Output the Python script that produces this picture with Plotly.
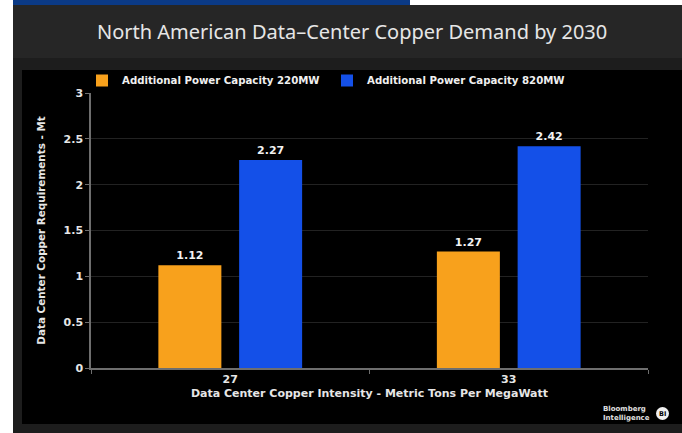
import plotly.graph_objects as go

# Chart data
intensity = ["27", "33"]
demand_220mw = [1.12, 1.27]
demand_820mw = [2.27, 2.42]
series_names = ["Additional Power Capacity 220MW", "Additional Power Capacity 820MW"]
y_ticks = [0, 0.5, 1, 1.5, 2, 2.5, 3]
y_tick_text = ["0", "0.5", "1", "1.5", "2", "2.5", "3"]

W, H = 682, 433
L, R, T, B = 91, 34, 93, 65
PW, PH = W - L - R, H - T - B

ORANGE = "#f8a11c"
BLUE = "#1450e8"
LABEL_FONT = "DejaVu Sans"


def px(x):
    return (x - L) / PW


def py(y):
    return (H - B - y) / PH


fig = go.Figure()
for name, vals, col in [(series_names[0], demand_220mw, ORANGE),
                        (series_names[1], demand_820mw, BLUE)]:
    fig.add_trace(go.Bar(
        x=intensity, y=vals, name=name,
        marker=dict(color=col, line=dict(width=0)),
        text=[f"{v:g}" for v in vals], textposition="outside",
        textfont=dict(family=LABEL_FONT, size=11, color="#f2f2f2", weight="bold"),
        cliponaxis=False,
    ))

shapes = [
    # blue header strip
    dict(type="rect", xref="paper", yref="paper", x0=px(13), x1=px(410), y0=py(0), y1=py(5),
         fillcolor="#0b3a86", line=dict(width=0), layer="below"),
    # outer dark panel
    dict(type="rect", xref="paper", yref="paper", x0=px(13), x1=px(682), y0=py(5), y1=py(433),
         fillcolor="#1d1d1d", line=dict(width=0), layer="below"),
    # title band
    dict(type="rect", xref="paper", yref="paper", x0=px(13), x1=px(682), y0=py(5), y1=py(58),
         fillcolor="#262626", line=dict(width=0), layer="below"),
    # chart panel
    dict(type="rect", xref="paper", yref="paper", x0=px(22), x1=px(682), y0=py(70), y1=py(424),
         fillcolor="#000000", line=dict(width=0), layer="below"),
    # logo circle
    dict(type="circle", xref="paper", yref="paper", x0=px(656), x1=px(669), y0=py(407), y1=py(420),
         fillcolor="#f0f0f0", line=dict(width=0)),
]

annotations = [
    dict(text="North American Data\u2013Center Copper Demand by 2030", x=px(352), y=py(32),
         xref="paper", yref="paper", showarrow=False, xanchor="center", yanchor="middle",
         font=dict(family="Noto Sans", size=20, color="#e6e6e6")),
    dict(text="<b>Bloomberg<br>Intelligence</b>", x=px(652), y=py(413), xref="paper", yref="paper",
         showarrow=False, xanchor="right", yanchor="middle", align="left",
         font=dict(family=LABEL_FONT, size=7, color="#e0e0e0")),
    dict(text="<b>BI</b>", x=px(662.5), y=py(413.5), xref="paper", yref="paper",
         showarrow=False, xanchor="center", yanchor="middle",
         font=dict(family=LABEL_FONT, size=6.5, color="#000000")),
]

fig.update_layout(
    width=W, height=H,
    margin=dict(l=L, r=R, t=T, b=B, pad=0),
    paper_bgcolor="#ffffff",
    plot_bgcolor="rgba(0,0,0,0)",
    barmode="group", bargap=0.42, bargroupgap=0.22,
    shapes=shapes, annotations=annotations,
    showlegend=True,
    legend=dict(orientation="h", x=px(82), y=py(66), xanchor="left", yanchor="top",
                bgcolor="rgba(0,0,0,0)", font=dict(family=LABEL_FONT, size=10.2, color="#f0f0f0",
                                                 weight="bold"),
                itemwidth=30, entrywidth=200, traceorder="normal"),
    xaxis=dict(
        showgrid=False, showline=True, linecolor="#6e6e6e", linewidth=1.5,
        ticks="outside", tickson="boundaries", ticklen=4, tickcolor="#6e6e6e",
        tickfont=dict(family=LABEL_FONT, size=11, color="#e6e6e6", weight="bold"),
        title=dict(text="Data Center Copper Intensity - Metric Tons Per MegaWatt", standoff=4,
                   font=dict(family=LABEL_FONT, size=11, color="#e6e6e6", weight="bold")),
        zeroline=False,
    ),
    yaxis=dict(
        range=[0, 3], tickvals=y_ticks, ticktext=y_tick_text,
        showgrid=True, gridcolor="#222222", gridwidth=1,
        showline=True, linecolor="#6e6e6e", linewidth=1.5,
        ticks="outside", ticklen=4, tickcolor="#6e6e6e",
        tickfont=dict(family=LABEL_FONT, size=11, color="#e6e6e6", weight="bold"),
        title=dict(text="Data Center Copper Requirements - Mt", standoff=16,
                   font=dict(family=LABEL_FONT, size=10.4, color="#e6e6e6", weight="bold")),
        zeroline=False,
    ),
)

fig.write_html("out.html")
